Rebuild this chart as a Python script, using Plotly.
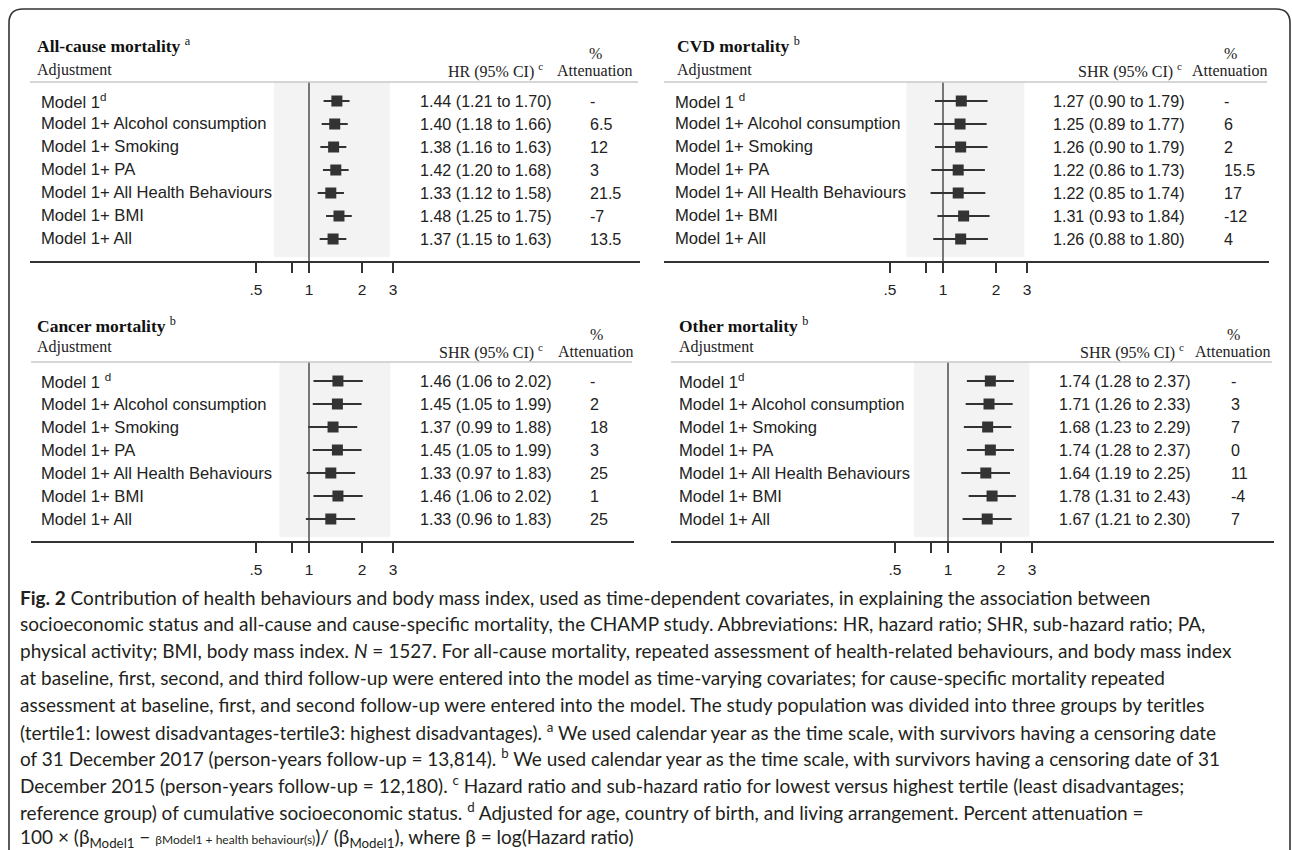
import numpy as np
import plotly.graph_objects as go

W, H = 1292, 850

# ---------------- data ----------------
ADJUSTMENTS = ["Model 1", "Model 1+ Alcohol consumption", "Model 1+ Smoking", "Model 1+ PA",
               "Model 1+ All Health Behaviours", "Model 1+ BMI", "Model 1+ All"]

ALL_HR = [1.44, 1.40, 1.38, 1.42, 1.33, 1.48, 1.37]
ALL_LO = [1.21, 1.18, 1.16, 1.20, 1.12, 1.25, 1.15]
ALL_HI = [1.70, 1.66, 1.63, 1.68, 1.58, 1.75, 1.63]
ALL_ATT = ["-", "6.5", "12", "3", "21.5", "-7", "13.5"]

CVD_HR = [1.27, 1.25, 1.26, 1.22, 1.22, 1.31, 1.26]
CVD_LO = [0.90, 0.89, 0.90, 0.86, 0.85, 0.93, 0.88]
CVD_HI = [1.79, 1.77, 1.79, 1.73, 1.74, 1.84, 1.80]
CVD_ATT = ["-", "6", "2", "15.5", "17", "-12", "4"]

CAN_HR = [1.46, 1.45, 1.37, 1.45, 1.33, 1.46, 1.33]
CAN_LO = [1.06, 1.05, 0.99, 1.05, 0.97, 1.06, 0.96]
CAN_HI = [2.02, 1.99, 1.88, 1.99, 1.83, 2.02, 1.83]
CAN_ATT = ["-", "2", "18", "3", "25", "1", "25"]

OTH_HR = [1.74, 1.71, 1.68, 1.74, 1.64, 1.78, 1.67]
OTH_LO = [1.28, 1.26, 1.23, 1.28, 1.19, 1.31, 1.21]
OTH_HI = [2.37, 2.33, 2.29, 2.37, 2.25, 2.43, 2.30]
OTH_ATT = ["-", "3", "7", "0", "11", "-4", "7"]

TICK_VALS = [0.5, 0.8, 1, 2, 3]
TICK_TEXT = [".5", "", "1", "2", "3"]

CAPTION = [
    "<b>Fig. 2</b> Contribution of health behaviours and body mass index, used as time-dependent covariates, in explaining the association between",
    "socioeconomic status and all-cause and cause-specific mortality, the CHAMP study. Abbreviations: HR, hazard ratio; SHR, sub-hazard ratio; PA,",
    "physical activity; BMI, body mass index. <i>N</i> = 1527. For all-cause mortality, repeated assessment of health-related behaviours, and body mass index",
    "at baseline, first, second, and third follow-up were entered into the model as time-varying covariates; for cause-specific mortality repeated",
    "assessment at baseline, first, and second follow-up were entered into the model. The study population was divided into three groups by teritles",
    "(tertile1: lowest disadvantages-tertile3: highest disadvantages). <sup>a</sup> We used calendar year as the time scale, with survivors having a censoring date",
    "of 31 December 2017 (person-years follow-up = 13,814). <sup>b</sup> We used calendar year as the time scale, with survivors having a censoring date of 31",
    "December 2015 (person-years follow-up = 12,180). <sup>c</sup> Hazard ratio and sub-hazard ratio for lowest versus highest tertile (least disadvantages;",
    "reference group) of cumulative socioeconomic status. <sup>d</sup> Adjusted for age, country of birth, and living arrangement. Percent attenuation =",
    "100 × (β<sub>Model1</sub> − <span style='font-size:12px'>βModel1 + health behaviour(s)</span>)/ (β<sub>Model1</sub>), where β = log(Hazard ratio)",
]

# ---------------- layout (pixels) ----------------
PX_DEC = 176.0
TOP = dict(top=82, bottom=261, first=101, step=23.0, title_y=45, pct_y=53, adj_y=70, hdr_y=71)
BOT = dict(top=362, bottom=541, first=381, step=23.0, title_y=325, pct_y=334, adj_y=347, hdr_y=352)
panels = [
    dict(title="All-cause mortality", sup="a", ratio="HR (95% CI)", hr=ALL_HR, lo=ALL_LO, hi=ALL_HI, att=ALL_ATT,
         m1sup="<sup>d</sup>", ax0=30, ax1=640, one=309, lab_x=39, title_x=35, ci_x=418, att_x=588,
         hr_right=545, att_c=595, shade=(0.633, 2.88), **TOP),
    dict(title="CVD mortality", sup="b", ratio="SHR (95% CI)", hr=CVD_HR, lo=CVD_LO, hi=CVD_HI, att=CVD_ATT,
         m1sup=" <sup>d</sup>", ax0=664, ax1=1269, one=943, lab_x=673, title_x=675, ci_x=1051, att_x=1222,
         hr_right=1184, att_c=1230, shade=(0.62, 2.9), **TOP),
    dict(title="Cancer mortality", sup="b", ratio="SHR (95% CI)", hr=CAN_HR, lo=CAN_LO, hi=CAN_HI, att=CAN_ATT,
         m1sup=" <sup>d</sup>", ax0=31, ax1=634, one=309, lab_x=39, title_x=35, ci_x=418, att_x=588,
         hr_right=545, att_c=596, shade=(0.68, 2.9), **BOT),
    dict(title="Other mortality", sup="b", ratio="SHR (95% CI)", hr=OTH_HR, lo=OTH_LO, hi=OTH_HI, att=OTH_ATT,
         m1sup="<sup>d</sup>", ax0=671, ax1=1274, one=948, lab_x=677, title_x=677, ci_x=1057, att_x=1229,
         hr_right=1186, att_c=1233, shade=(0.64, 2.9), **BOT),
]

def fx(p):
    return p / W

def fy(p):
    return 1 - p / H

SERIF = "Liberation Serif, Times New Roman, serif"
SANS = "Liberation Sans, Arial, sans-serif"
CAP_FONT = "Lato, Open Sans, sans-serif"
INK = "#333333"

fig = go.Figure()
annotations = []
shapes = []
layout_axes = {}

for k, p in enumerate(panels, start=1):
    xa = "x" if k == 1 else f"x{k}"
    ya = "y" if k == 1 else f"y{k}"
    n = len(p["hr"])
    rows = list(range(n))
    r_top = -(p["first"] - p["top"]) / p["step"]
    r_bot = (p["bottom"] - p["first"]) / p["step"]
    r_shade_bot = (p["bottom"] - 4 - p["first"]) / p["step"]

    # shaded plot region
    s0, s1 = p["shade"]
    fig.add_trace(go.Scatter(x=[s0, s1, s1, s0, s0], y=[r_top, r_top, r_shade_bot, r_shade_bot, r_top],
                             mode="lines", fill="toself", fillcolor="#f3f3f3", line=dict(width=0),
                             hoverinfo="skip", showlegend=False, xaxis=xa, yaxis=ya))
    # reference line at 1
    fig.add_trace(go.Scatter(x=[1, 1], y=[r_top, r_bot], mode="lines", line=dict(color=INK, width=1.3),
                             hoverinfo="skip", showlegend=False, xaxis=xa, yaxis=ya))
    # estimates with CI
    hr = np.array(p["hr"])
    lo = np.array(p["lo"])
    hi = np.array(p["hi"])
    fig.add_trace(go.Scatter(
        x=hr, y=rows, mode="markers",
        marker=dict(symbol="square", size=11, color=INK, line=dict(width=0)),
        error_x=dict(type="data", symmetric=False, array=hi - hr, arrayminus=hr - lo,
                     thickness=2, width=0, color=INK),
        showlegend=False, xaxis=xa, yaxis=ya))

    L0 = (p["ax0"] - p["one"]) / PX_DEC
    L1 = (p["ax1"] - p["one"]) / PX_DEC
    xkey = "xaxis" if k == 1 else f"xaxis{k}"
    ykey = "yaxis" if k == 1 else f"yaxis{k}"
    layout_axes[xkey] = dict(type="log", domain=[fx(p["ax0"]), fx(p["ax1"])], range=[L0, L1],
                             anchor=ya, showgrid=False, zeroline=False, showline=True,
                             linecolor=INK, linewidth=1.5, ticks="outside", ticklen=10, tickwidth=1.5,
                             tickcolor=INK, tickvals=TICK_VALS, ticktext=TICK_TEXT, ticklabelstandoff=4,
                             tickfont=dict(family=SANS, size=15.5, color="#222"), fixedrange=True)
    layout_axes[ykey] = dict(domain=[fy(p["bottom"]), fy(p["top"])], range=[r_bot, r_top],
                             anchor=xa, visible=False, showgrid=False, zeroline=False, fixedrange=True)

    # separator line
    shapes.append(dict(type="line", xref="paper", yref="paper", x0=fx(p["ax0"]), x1=fx(p["ax1"] - 2),
                       y0=fy(p["top"]), y1=fy(p["top"]), line=dict(color="#c9c9c9", width=1.5)))

    # headers
    annotations.append(dict(text=f"<b>{p['title']}</b> <sup>{p['sup']}</sup>", xref="paper", yref="paper",
                            x=fx(p["title_x"]), y=fy(p["title_y"]), xanchor="left", yanchor="middle",
                            showarrow=False, font=dict(family=SERIF, size=17.5, color="#111")))
    annotations.append(dict(text="Adjustment", xref="paper", yref="paper", x=fx(p["title_x"]), y=fy(p["adj_y"]),
                            xanchor="left", yanchor="middle", showarrow=False,
                            font=dict(family=SERIF, size=16, color="#222")))
    annotations.append(dict(text=f"{p['ratio']} <sup>c</sup>", xref="paper", yref="paper", x=fx(p["hr_right"]),
                            y=fy(p["hdr_y"]), xanchor="right", yanchor="middle", showarrow=False,
                            font=dict(family=SERIF, size=16, color="#222")))
    annotations.append(dict(text="%", xref="paper", yref="paper", x=fx(p["att_c"]), y=fy(p["pct_y"]),
                            xanchor="center", yanchor="middle", showarrow=False,
                            font=dict(family=SERIF, size=16, color="#222")))
    annotations.append(dict(text="Attenuation", xref="paper", yref="paper", x=fx(p["att_c"]), y=fy(p["hdr_y"]),
                            xanchor="center", yanchor="middle", showarrow=False,
                            font=dict(family=SERIF, size=16, color="#222")))

    # row texts
    for i in rows:
        lab = ADJUSTMENTS[i] + (p["m1sup"] if i == 0 else "")
        annotations.append(dict(text=lab, xref="paper", yref=ya, x=fx(p["lab_x"]), y=i, xanchor="left",
                                yanchor="middle", showarrow=False, font=dict(family=SANS, size=16.6, color="#222")))
        ci = f"{p['hr'][i]:.2f} ({p['lo'][i]:.2f} to {p['hi'][i]:.2f})"
        annotations.append(dict(text=ci, xref="paper", yref=ya, x=fx(p["ci_x"]), y=i, xanchor="left",
                                yanchor="middle", showarrow=False, font=dict(family=SANS, size=16.1, color="#222")))
        annotations.append(dict(text=p["att"][i], xref="paper", yref=ya, x=fx(p["att_x"]), y=i, xanchor="left",
                                yanchor="middle", showarrow=False, font=dict(family=SANS, size=16.1, color="#222")))

# caption
CAP_Y0, CAP_STEP = 597, 26.8
for j, line in enumerate(CAPTION):
    annotations.append(dict(text=line, xref="paper", yref="paper", x=fx(18), y=fy(CAP_Y0 + j * CAP_STEP),
                            xanchor="left", yanchor="middle", showarrow=False,
                            font=dict(family=CAP_FONT, size=19, color="#231f20")))

# outer rounded frame
x0, x1, yt, yb, r = 9, 1290, 9, 870, 14
path = (f"M {fx(x0)},{fy(yb)} L {fx(x0)},{fy(yt + r)} Q {fx(x0)},{fy(yt)} {fx(x0 + r)},{fy(yt)} "
        f"L {fx(x1 - r)},{fy(yt)} Q {fx(x1)},{fy(yt)} {fx(x1)},{fy(yt + r)} L {fx(x1)},{fy(yb)}")
shapes.append(dict(type="path", xref="paper", yref="paper", path=path, line=dict(color="#333", width=1.6)))

fig.update_layout(width=W, height=H, margin=dict(l=0, r=0, t=0, b=0), paper_bgcolor="white",
                  plot_bgcolor="rgba(0,0,0,0)", showlegend=False, annotations=annotations, shapes=shapes,
                  **layout_axes)

fig.write_html("out.html", config={"displayModeBar": False},
               post_script="document.body.style.margin='0';document.body.style.overflow='hidden';")
